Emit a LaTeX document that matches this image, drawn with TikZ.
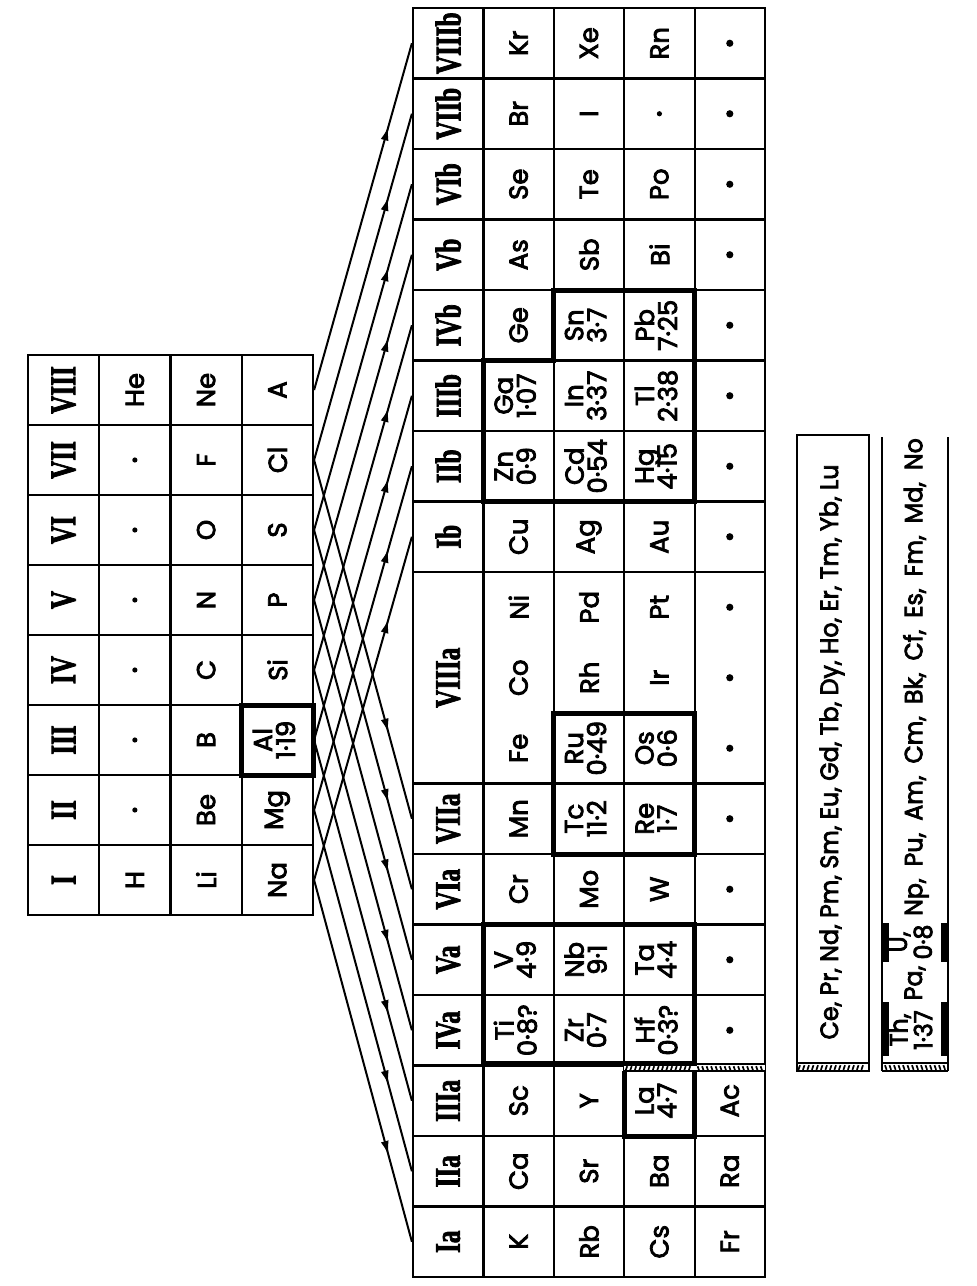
\documentclass[tikz,border=0pt]{standalone}
\usepackage{fontspec}
\setmainfont{Poppins}
\newfontfamily\elfont[FakeBold=3]{Poppins}
\newfontfamily\listfont[FakeBold=3,FakeStretch=0.95]{Poppins}
\newfontfamily\rnfont[FakeStretch=0.7,FakeBold=2]{Liberation Serif}
\usetikzlibrary{decorations.markings,arrows.meta}
\newcommand\stcell[5][]{\node[scell,#1] (#2) at ({63.625+71.25*#3},{390+70*#4}) {#5};}
\newcommand\btcell[5][]{\node[bcell,#1] (#2) at ({448.2+70.4*#3},{43.25+70.5*#4}) {#5};}
\newcommand\twol[2]{\begin{tabular}{@{}c@{}}#1\\[-3pt]#2\end{tabular}}
% #1 x-start, #2 y-top, #3 count, #4 slant
\newcommand\hatchmarks[4]{\foreach \k in {0,...,#3}{\draw[line width=1.7pt] ({#1+3+4.5*\k},{#2+1.2}) -- ({#1+3+4.5*\k+#4},{#2+5.8});}}
\begin{document}
\begin{tikzpicture}[x=1pt,y=-1pt,
  every node/.style={inner sep=0pt},
  scell/.style={draw, line width=2.2pt, rotate=90, minimum width=70pt, minimum height=71.25pt, font=\elfont\fontsize{26}{23}\selectfont},
  bcell/.style={draw, line width=2.2pt, rotate=90, minimum width=70.5pt, minimum height=70.4pt, font=\elfont\fontsize{26}{23}\selectfont},
  hd/.style={font=\rnfont\bfseries\fontsize{36}{36}\selectfont},
  txt/.style={rotate=90, font=\elfont\fontsize{26}{23}\selectfont},
  listtxt/.style={rotate=90, font=\listfont\fontsize{25}{22}\selectfont},
  thickbox/.style={line width=5pt, line join=miter},
  conn/.style={line width=2pt, postaction={decorate}, decoration={markings, mark=at position 0.76 with {\arrow{Latex[length=14pt,width=8pt]}}}},
]
\useasboundingbox (0,0) rectangle (977,1286);
% ---------------- small table ----------------
\stcell[hd]{hVIII}{0}{0}{VIII} \stcell{He}{1}{0}{He} \stcell{Ne}{2}{0}{Ne} \stcell{Ar}{3}{0}{A}
\stcell[hd]{hVII}{0}{1}{VII} \stcell{sd1}{1}{1}{} \stcell{F}{2}{1}{F} \stcell{Cl}{3}{1}{Cl}
\stcell[hd]{hVI}{0}{2}{VI} \stcell{sd2}{1}{2}{} \stcell{O}{2}{2}{O} \stcell{S}{3}{2}{S}
\stcell[hd]{hV}{0}{3}{V} \stcell{sd3}{1}{3}{} \stcell{N}{2}{3}{N} \stcell{P}{3}{3}{P}
\stcell[hd]{hIV}{0}{4}{IV} \stcell{sd4}{1}{4}{} \stcell{C}{2}{4}{C} \stcell{Si}{3}{4}{Si}
\stcell[hd]{hIII}{0}{5}{III} \stcell{sd5}{1}{5}{} \stcell{B}{2}{5}{B} \stcell{Al}{3}{5}{\twol{Al}{1·19}}
\stcell[hd]{hII}{0}{6}{II} \stcell{sd6}{1}{6}{} \stcell{Be}{2}{6}{Be} \stcell{Mg}{3}{6}{Mg}
\stcell[hd]{hI}{0}{7}{I} \stcell{H}{1}{7}{H} \stcell{Li}{2}{7}{Li} \stcell{Na}{3}{7}{Na}
\foreach \n in {sd1,sd2,sd3,sd4,sd5,sd6}{\fill (\n) circle (2.6pt);}
\draw[line width=2.8pt] (28,355) rectangle (313,915);
\draw[thickbox] (241.75,705) rectangle (313,775);
% ---------------- big table ----------------
\btcell[hd]{hVIIIb}{0}{0}{VIIIb} \btcell{Kr}{1}{0}{Kr} \btcell{Xe}{2}{0}{Xe} \btcell{Rn}{3}{0}{Rn} \btcell{d04}{4}{0}{}
\btcell[hd]{hVIIb}{0}{1}{VIIb} \btcell{Br}{1}{1}{Br} \btcell{Io}{2}{1}{I} \btcell{d13}{3}{1}{} \btcell{d14}{4}{1}{}
\btcell[hd]{hVIb}{0}{2}{VIb} \btcell{Se}{1}{2}{Se} \btcell{Te}{2}{2}{Te} \btcell{Po}{3}{2}{Po} \btcell{d24}{4}{2}{}
\btcell[hd]{hVb}{0}{3}{Vb} \btcell{As}{1}{3}{As} \btcell{Sb}{2}{3}{Sb} \btcell{Bi}{3}{3}{Bi} \btcell{d34}{4}{3}{}
\btcell[hd]{hIVb}{0}{4}{IVb} \btcell{Ge}{1}{4}{Ge} \btcell{Sn}{2}{4}{\twol{Sn}{3·7}} \btcell{Pb}{3}{4}{\twol{Pb}{7·25}} \btcell{d44}{4}{4}{}
\btcell[hd]{hIIIb}{0}{5}{IIIb} \btcell{Ga}{1}{5}{\twol{Ga}{1·07}} \btcell{In}{2}{5}{\twol{In}{3·37}} \btcell{Tl}{3}{5}{\twol{Tl}{2·38}} \btcell{d54}{4}{5}{}
\btcell[hd]{hIIb}{0}{6}{IIb} \btcell{Zn}{1}{6}{\twol{Zn}{0·9}} \btcell{Cd}{2}{6}{\twol{Cd}{0·54}} \btcell{Hg}{3}{6}{\twol{Hg}{4·15}} \btcell{d64}{4}{6}{}
\btcell[hd]{hIb}{0}{7}{Ib} \btcell{Cu}{1}{7}{Cu} \btcell{Ag}{2}{7}{Ag} \btcell{Au}{3}{7}{Au} \btcell{d74}{4}{7}{}
% VIIIa
\node[bcell,hd,minimum width=211.5pt] (hVIIIa) at (448.2,677.75) {VIIIa};
\node[bcell,minimum width=211.5pt] (FeCoNi) at (518.6,677.75) {};
\node[txt] (Fe) at (518.6,748.25) {Fe};
\node[txt] (Co) at (518.6,677.75) {Co};
\node[txt] (Ni) at (518.6,607.25) {Ni};
\node[bcell,minimum width=141pt] (RhPd) at (589,642.5) {};
\node[txt] (Rh) at (589,677.75) {Rh};
\node[txt] (Pd) at (589,607.25) {Pd};
\btcell{Ru}{2}{10}{\twol{Ru}{0·49}}
\node[bcell,minimum width=141pt] (IrPt) at (659.4,642.5) {};
\node[txt] (Ir) at (659.4,677.75) {Ir};
\node[txt] (Pt) at (659.4,607.25) {Pt};
\btcell{Os}{3}{10}{\twol{Os}{0·6}}
\node[bcell,minimum width=211.5pt] (r4VIII) at (729.8,677.75) {};
\btcell[hd]{hVIIa}{0}{11}{VIIa} \btcell{Mn}{1}{11}{Mn} \btcell{Tc}{2}{11}{\twol{Tc}{11·2}} \btcell{Re}{3}{11}{\twol{Re}{1·7}} \btcell{d114}{4}{11}{}
\btcell[hd]{hVIa}{0}{12}{VIa} \btcell{Cr}{1}{12}{Cr} \btcell{Mo}{2}{12}{Mo} \btcell{W}{3}{12}{W} \btcell{d124}{4}{12}{}
\btcell[hd]{hVa}{0}{13}{Va} \btcell{V}{1}{13}{\twol{V}{4·9}} \btcell{Nb}{2}{13}{\twol{Nb}{9·1}} \btcell{Ta}{3}{13}{\twol{Ta}{4·4}} \btcell{d134}{4}{13}{}
\btcell[hd]{hIVa}{0}{14}{IVa} \btcell{Ti}{1}{14}{\twol{Ti}{0·8?}} \btcell{Zr}{2}{14}{\twol{Zr}{0·7}} \btcell{Hf}{3}{14}{\twol{Hf}{0·3?}} \btcell{d144}{4}{14}{}
\btcell[hd]{hIIIa}{0}{15}{IIIa} \btcell{Sc}{1}{15}{Sc} \btcell{Y}{2}{15}{Y} \btcell{La}{3}{15}{\twol{La}{4·7}} \btcell{Ac}{4}{15}{Ac}
\btcell[hd]{hIIa}{0}{16}{IIa} \btcell{Ca}{1}{16}{Ca} \btcell{Sr}{2}{16}{Sr} \btcell{Ba}{3}{16}{Ba} \btcell{Ra}{4}{16}{Ra}
\btcell[hd]{hIa}{0}{17}{Ia} \btcell{K}{1}{17}{K} \btcell{Rb}{2}{17}{Rb} \btcell{Cs}{3}{17}{Cs} \btcell{Fr}{4}{17}{Fr}
% dots
\foreach \n in {d04,d14,d24,d34,d44,d54,d64,d74,d114,d124,d134,d144}{\fill (\n) circle (3.6pt);}
\fill (d13) circle (2.6pt);
\fill (729.8,607.25) circle (3.6pt);
\fill (729.8,677.75) circle (3.6pt);
\fill (729.8,748.25) circle (3.6pt);
\draw[line width=2.8pt] (413,8) rectangle (765,1277);
% hatched strip IVa/IIIa
\fill[white] (624.2,1065.2) rectangle (765,1071);
\draw[line width=2.2pt] (694.6,1064) -- (765,1064);
\draw[line width=1.8pt] (624.2,1071) -- (765,1071);
\hatchmarks{624.2}{1065}{14}{-1.6}
\hatchmarks{694.6}{1065}{14}{1.6}
% thick boxes
\draw[thickbox] (483.4,360.5) -- (553.8,360.5) -- (553.8,290) -- (694.6,290) -- (694.6,501.5) -- (483.4,501.5) -- cycle;
\draw[thickbox] (553.8,713) rectangle (694.6,854);
\draw[thickbox] (483.4,924.5) rectangle (694.6,1063);
\draw[thickbox] (624.2,1071) -- (624.2,1136) -- (694.6,1136) -- (694.6,1071);
% ---------------- lanthanides ----------------
\draw[line width=2.2pt] (797,435) rectangle (869,1063);
\draw[line width=2pt] (797,1063) rectangle (869,1071);
\hatchmarks{797}{1064}{14}{-1.6}
\node[listtxt] (lan) at (832,752) {Ce, Pr, Nd, Pm, Sm, Eu, Gd, Tb, Dy, Ho, Er, Tm, Yb, Lu};
% ---------------- actinides ----------------
\draw[line width=2.2pt] (882,437) -- (882,1071);
\draw[line width=2.2pt] (948,437) -- (948,1071);
\draw[line width=1.8pt] (882,1063) -- (948,1063);
\draw[line width=2pt] (882,1071) -- (948,1071);
\hatchmarks{882}{1064}{13}{1.6}
\fill (882,923) rectangle (889,962);
\fill (882,1002) rectangle (889,1056);
\fill (941,923) rectangle (948,962);
\fill (941,1002) rectangle (948,1056);
\node[listtxt] (Th) at (900,1030) {Th,};
\node[listtxt] (Thv) at (923,1030) {1·37};
\node[listtxt] (Pa) at (915,983) {Pa,};
\node[listtxt] (U) at (900,942) {U,};
\node[listtxt] (Uv) at (923,942) {0·8};
\node[listtxt,anchor=west] (act) at (916,916) {\spaceskip=12pt Np, Pu, Am, Cm, Bk, Cf, Es, Fm, Md, No};
% ---------------- connectors ----------------
\draw[conn] (Ar.south) -- (hVIIIb.north);
\draw[conn] (Cl.south) -- (hVIIb.north);
\draw[conn] (S.south) -- (hVIb.north);
\draw[conn] (P.south) -- (hVb.north);
\draw[conn] (Si.south) -- (hIVb.north);
\draw[conn] (Al.south) -- (hIIIb.north);
\draw[conn] (Mg.south) -- (hIIb.north);
\draw[conn] (Na.south) -- (hIb.north);
\draw[conn] (Cl.south) -- (hVIIa.north);
\draw[conn] (S.south) -- (hVIa.north);
\draw[conn] (P.south) -- (hVa.north);
\draw[conn] (Si.south) -- (hIVa.north);
\draw[conn] (Al.south) -- (hIIIa.north);
\draw[conn] (Mg.south) -- (hIIa.north);
\draw[conn] (Na.south) -- (hIa.north);
\end{tikzpicture}
\end{document}
